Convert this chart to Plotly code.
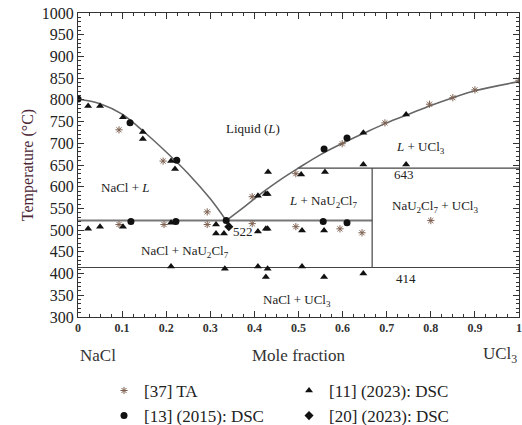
import plotly.graph_objects as go

# Liquidus curves
liq_left_x = [0.0, 0.05, 0.10, 0.15, 0.20, 0.25, 0.30, 0.336]
liq_left_T = [802, 791, 767, 726, 680, 630, 572, 522]
liq_right_x = [0.336, 0.38, 0.42, 0.46, 0.50, 0.55, 0.60, 0.65, 0.70, 0.75, 0.80, 0.85, 0.90, 1.0]
liq_right_T = [522, 556, 588, 617, 643, 674, 700, 724, 747, 767, 787, 805, 821, 842]

# Invariant lines
eut_T = 522
eutec_x = [0.0, 0.667]
per_T = 643
per_x = [0.5, 1.0]
low_T = 414
low_x = [0.0, 1.0]
comp_x = 0.667

# Experimental data
ta_x = [0.093, 0.193, 0.093, 0.195, 0.293, 0.293, 0.395, 0.395, 0.494, 0.494, 0.594, 0.644, 0.80,
        0.599, 0.696, 0.797, 0.85, 0.90, 1.0]
ta_T = [731, 659, 513, 513, 542, 513, 577, 515, 630, 508, 503, 494, 522,
        699, 747, 790, 805, 823, 845]

dsc11_x = [0.023, 0.05, 0.102, 0.147, 0.147, 0.211, 0.22,
           0.023, 0.05, 0.102, 0.211,
           0.313, 0.313, 0.331,
           0.408, 0.426, 0.43, 0.431, 0.506, 0.56, 0.647, 0.744,
           0.408, 0.426, 0.43, 0.508, 0.558,
           0.211, 0.333, 0.408, 0.43, 0.508, 0.426, 0.558, 0.647,
           0.647, 0.744]
dsc11_T = [786, 786, 760, 726, 710, 659, 641,
           503, 508, 508, 517,
           513, 492, 492,
           579, 583, 583, 634, 628, 634, 651, 651,
           497, 503, 503, 499, 499,
           416, 411, 416, 411, 416, 392, 392, 400,
           724, 766]

dsc13_x = [0.0, 0.118, 0.224, 0.12, 0.222, 0.336, 0.556, 0.61, 0.558, 0.61]
dsc13_T = [802, 747, 661, 520, 520, 522, 520, 517, 687, 712]

dsc20_x = [0.342]
dsc20_T = [508]

x_ticks = [0, 0.1, 0.2, 0.3, 0.4, 0.5, 0.6, 0.7, 0.8, 0.9, 1]
x_tick_text = ["0", "0.1", "0.2", "0.3", "0.4", "0.5", "0.6", "0.7", "0.8", "0.9", "1"]
y_ticks = list(range(300, 1001, 50))

FONT = "Liberation Serif, DejaVu Serif, serif"
fig = go.Figure()

fig.add_trace(go.Scatter(x=liq_left_x, y=liq_left_T, mode="lines", line=dict(color="#666666", width=1.6, shape="spline"),
                         showlegend=False, hoverinfo="skip"))
fig.add_trace(go.Scatter(x=liq_right_x, y=liq_right_T, mode="lines", line=dict(color="#666666", width=1.6, shape="spline"),
                         showlegend=False, hoverinfo="skip"))
fig.add_trace(go.Scatter(x=eutec_x, y=[eut_T, eut_T], mode="lines", line=dict(color="#777777", width=2),
                         showlegend=False, hoverinfo="skip"))
fig.add_trace(go.Scatter(x=per_x, y=[per_T, per_T], mode="lines", line=dict(color="#444444", width=1.2),
                         showlegend=False, hoverinfo="skip"))
fig.add_trace(go.Scatter(x=low_x, y=[low_T, low_T], mode="lines", line=dict(color="#444444", width=1.2),
                         showlegend=False, hoverinfo="skip"))
fig.add_trace(go.Scatter(x=[comp_x, comp_x], y=[low_T, per_T], mode="lines", line=dict(color="#444444", width=1.2),
                         showlegend=False, hoverinfo="skip"))

fig.add_trace(go.Scatter(x=ta_x, y=ta_T, mode="markers", name="[37] TA",
                         marker=dict(symbol="asterisk-open", size=6, color="#7d6050", line=dict(width=1, color="#7d6050"))))
fig.add_trace(go.Scatter(x=dsc11_x, y=dsc11_T, mode="markers", name="[11] (2023): DSC",
                         marker=dict(symbol="triangle-up", size=7, color="#111111")))
fig.add_trace(go.Scatter(x=dsc13_x, y=dsc13_T, mode="markers", name="[13] (2015): DSC",
                         marker=dict(symbol="circle", size=7, color="#111111")))
fig.add_trace(go.Scatter(x=dsc20_x, y=dsc20_T, mode="markers", name="[20] (2023): DSC",
                         marker=dict(symbol="diamond", size=7, color="#111111")))

ann_font = dict(family=FONT, size=13, color="#222222")
labels = [
    (0.397, 733, "Liquid (<i>L</i>)", "center"),
    (0.776, 690, "<i>L</i> + UCl<sub>3</sub>", "center"),
    (0.107, 598, "NaCl + <i>L</i>", "center"),
    (0.556, 566, "<i>L</i> + NaU<sub>2</sub>Cl<sub>7</sub>", "center"),
    (0.81, 555, "NaU<sub>2</sub>Cl<sub>7</sub> + UCl<sub>3</sub>", "center"),
    (0.74, 628, "643", "center"),
    (0.744, 388, "414", "center"),
    (0.496, 338, "NaCl + UCl<sub>3</sub>", "center"),
    (0.243, 450, "NaCl + NaU<sub>2</sub>Cl<sub>7</sub>", "center"),
    (0.347, 497, "522", "left"),
]
for x, y, t, al in labels:
    fig.add_annotation(x=x, y=y, text=t, showarrow=False, font=ann_font, xanchor=al, yanchor="middle")

under_font = dict(family=FONT, size=17, color="#333333")
fig.add_annotation(x=0.0, y=-0.125, xref="paper", yref="paper", text="NaCl", showarrow=False,
                   font=under_font, xanchor="left", yanchor="middle")
fig.add_annotation(x=0.5, y=-0.125, xref="paper", yref="paper", text="Mole fraction", showarrow=False,
                   font=under_font, xanchor="center", yanchor="middle")
fig.add_annotation(x=1.0, y=-0.125, xref="paper", yref="paper", text="UCl<sub>3</sub>", showarrow=False,
                   font=under_font, xanchor="right", yanchor="middle")

axis_common = dict(showline=True, linecolor="#333333", linewidth=1, mirror="allticks",
                   ticks="inside", tickcolor="#333333", showgrid=False, zeroline=False)
fig.update_xaxes(range=[0, 1], tickvals=x_ticks, ticktext=x_tick_text, ticklen=6,
                 tickfont=dict(family=FONT, size=12, color="#333333", weight="bold"),
                 minor=dict(dtick=0.025, ticks="inside", ticklen=3, tickcolor="#333333"),
                 **axis_common)
fig.update_yaxes(range=[300, 1000], tickvals=y_ticks, ticklen=6,
                 tickfont=dict(family=FONT, size=16, color="#222222"),
                 minor=dict(dtick=10, ticks="inside", ticklen=3, tickcolor="#333333"),
                 title=dict(text="Temperature (°C)", font=dict(family=FONT, size=16, color="#4a2535"), standoff=4),
                 **axis_common)

fig.update_layout(
    width=522, height=425,
    margin=dict(l=78, r=3, t=13, b=108, autoexpand=False),
    paper_bgcolor="white", plot_bgcolor="white",
    font=dict(family=FONT),
    legend=dict(orientation="h", x=0.059, y=-0.184, xanchor="left", yanchor="top",
                entrywidth=140, entrywidthmode="pixels",
                font=dict(family=FONT, size=17, color="#222222"), tracegroupgap=0),
)

fig.write_html("out.html")
